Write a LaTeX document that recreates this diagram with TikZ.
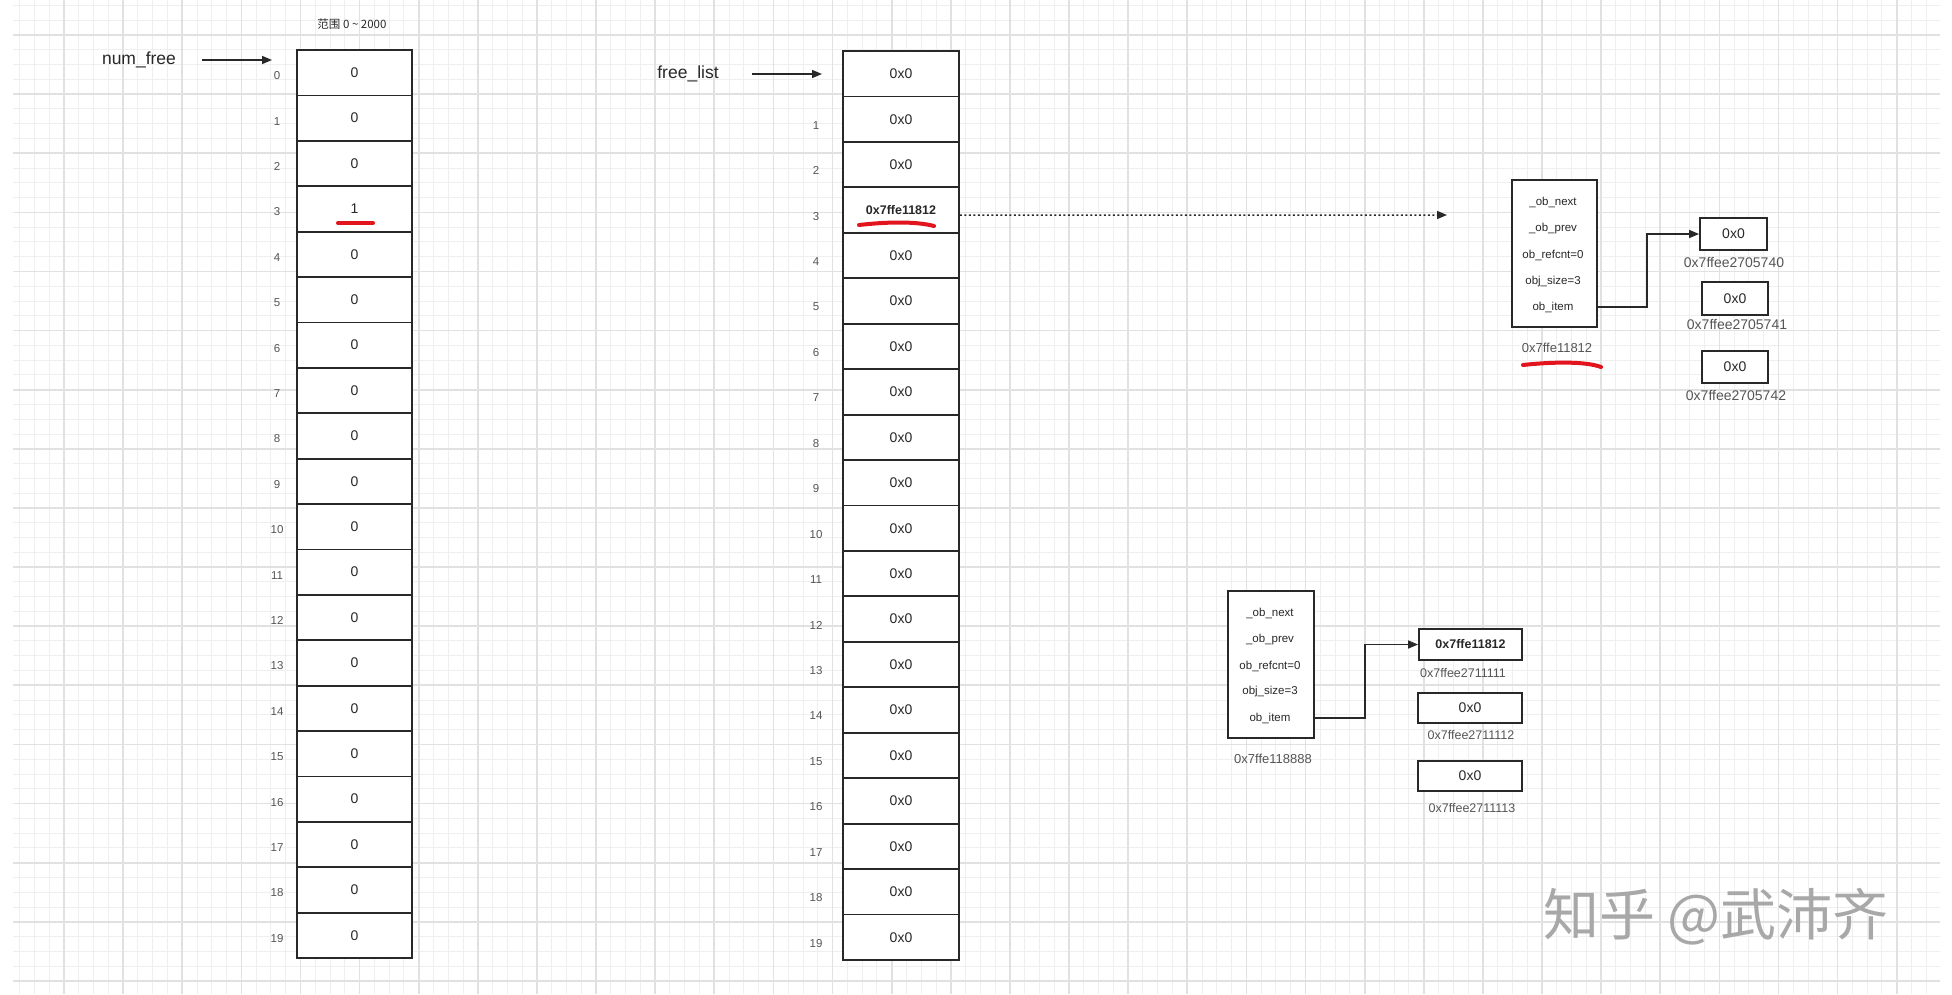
\documentclass[tikz,border=0pt]{standalone}
\usepackage{fontspec}
\setmainfont{Liberation Sans}
\newfontfamily\cjkfont{Noto Sans CJK SC}
\usetikzlibrary{arrows.meta, positioning}
\definecolor{gridfaint}{RGB}{239,239,239}
\definecolor{gridmajor}{RGB}{225,225,225}
\definecolor{inkdark}{RGB}{40,40,40}
\definecolor{addrgray}{RGB}{85,85,85}
\definecolor{markred}{RGB}{226,20,30}
\definecolor{wmgray}{RGB}{168,168,168}
\newcommand{\fsz}[1]{\fontsize{#1}{#1}\selectfont}

\begin{document}
\begin{tikzpicture}[
  x=1pt, y=-1pt,
  cellbox/.style={draw=inkdark, line width=1.8pt, fill=white, minimum width=115pt, minimum height=45.4pt, inner sep=0pt, text=inkdark, font=\fsz{14}},
  idxlabel/.style={text=addrgray, font=\fsz{11.5}},
  varname/.style={text=inkdark, inner sep=0pt, font=\fsz{17.5}},
  ptr/.style={draw=inkdark, line width=1.5pt, -{Triangle[length=10pt,width=8pt]}},
  structbox/.style={draw=inkdark, line width=1.8pt, fill=white, minimum width=85pt, minimum height=147pt, inner sep=0pt},
  field/.style={text=inkdark, inner sep=1pt, font=\fsz{11.5}},
  slotbox/.style={draw=inkdark, line width=1.8pt, fill=white, minimum height=31pt, inner sep=0pt, text=inkdark, font=\fsz{14}},
  addr/.style={text=addrgray, font=\fsz{13}},
  redline/.style={draw=markred, line width=4pt, line cap=round}
]
  \useasboundingbox (0,0) rectangle (1952,994);
  \fill[white] (0,0) rectangle (1952,994);
  \foreach \i in {1,...,130} \draw[gridfaint, line width=1pt] ({4.88+14.78*\i},0) -- ({4.88+14.78*\i},994);
  \foreach \j in {0,...,66} \draw[gridfaint, line width=1pt] (13,{5.44+14.78*\j}) -- (1940,{5.44+14.78*\j});
  \foreach \i in {1,...,32} \draw[gridmajor, line width=1.7pt] ({4.88+59.12*\i},0) -- ({4.88+59.12*\i},994);
  \foreach \j in {0,...,16} \draw[gridmajor, line width=1.7pt] (13,{35+59.12*\j}) -- (1940,{35+59.12*\j});

  \node[font={\cjkfont\fsz{11.5}}, text=inkdark] (range) at (352,24) {范围 0 \textasciitilde{} 2000};
  \node[varname] (numfree) at (139,60) {num\_free};
  \coordinate (nfhead) at (272,60);
  \draw[ptr] ([xshift=26pt]numfree.east) -- (nfhead);
  \foreach \i in {0,...,19} {
    \node[cellbox] (nf\i) at (354.5,{50+45.4*(\i+0.5)}) {\ifnum\i=3 1\else 0\fi};
    \node[idxlabel] (nfi\i) at (277,{53+45.4*(\i+0.5)}) {\i};
  }

  \node[varname] (freelist) at (688,74) {free\_list};
  \coordinate (flhead) at (822,74);
  \draw[ptr] ([xshift=33pt]freelist.east) -- (flhead);
  \foreach \i in {0,...,19} {
    \node[cellbox, minimum width=116pt] (fl\i) at (901,{51+45.45*(\i+0.5)}) {\ifnum\i=3 \bfseries\fsz{12.5}0x7ffe11812\else 0x0\fi};
  }
  \foreach \i in {1,...,19} \node[idxlabel] (fli\i) at (816,{57+45.45*(\i+0.5)}) {\i};
  \coordinate (objtarget) at (1447,215);
  \draw[ptr, dash pattern=on 2pt off 2.5pt] ([yshift=-5pt]fl3.east) -- (objtarget);

  \node[structbox] (structA) at (1554.5,253.5) {};
  \node[field] (nextA) at (1553,202) {\_ob\_next};
  \node[field] (prevA) at (1553,229) {\_ob\_prev};
  \node[field] (refA) at (1553,255) {ob\_refcnt=0};
  \node[field] (sizeA) at (1553,282) {obj\_size=3};
  \node[field] (itemA) at (1553,307) {ob\_item};
  \node[addr] (addrA) at (1557,348) {0x7ffe11812};
  \node[slotbox, minimum width=67pt, minimum height=32pt] (slotA0) at (1733.5,234) {0x0};
  \node[slotbox, minimum width=66pt, minimum height=33pt] (slotA1) at (1735,298.5) {0x0};
  \node[slotbox, minimum width=66pt, minimum height=32pt] (slotA2) at (1735,367) {0x0};
  \node[addr, font=\fsz{14}] (addrA0) at (1734,262) {0x7ffee2705740};
  \node[addr, font=\fsz{14}] (addrA1) at (1737,324) {0x7ffee2705741};
  \node[addr, font=\fsz{14}] (addrA2) at (1736,395) {0x7ffee2705742};
  \draw[ptr] (structA.east |- itemA) -- ++(49,0) |- (slotA0);

  \node[structbox, minimum width=86pt] (structB) at (1271,664.5) {};
  \node[field] (nextB) at (1270,613) {\_ob\_next};
  \node[field] (prevB) at (1270,640) {\_ob\_prev};
  \node[field] (refB) at (1270,666) {ob\_refcnt=0};
  \node[field] (sizeB) at (1270,692) {obj\_size=3};
  \node[field] (itemB) at (1270,718) {ob\_item};
  \node[addr] (addrB) at (1273,759) {0x7ffe118888};
  \node[slotbox, minimum width=103pt] (slotB0) at (1470.5,644.5) {\bfseries\fsz{12.5}0x7ffe11812};
  \node[slotbox, minimum width=104pt, minimum height=30pt] (slotB1) at (1470,708) {0x0};
  \node[slotbox, minimum width=104pt, minimum height=30pt] (slotB2) at (1470,776) {0x0};
  \node[addr, font=\fsz{12.5}] (addrB0) at (1463,673) {0x7ffee2711111};
  \node[addr, font=\fsz{12.5}] (addrB1) at (1471,735) {0x7ffee2711112};
  \node[addr, font=\fsz{12.5}] (addrB2) at (1472,808) {0x7ffee2711113};
  \draw[ptr] (structB.east |- itemB) -- ++(50,0) |- (slotB0);

  \draw[redline] (338,223) -- (373,223);
  \draw[redline] (859,225) .. controls (885,222) and (915,221) .. (934,226);
  \draw[redline] (1523,365) .. controls (1550,362) and (1585,361) .. (1601,367);

  \node[font={\cjkfont\fsz{56}}, text=wmgray] (watermark) at (1716,917) {知乎 @武沛齐};
\end{tikzpicture}
\end{document}
